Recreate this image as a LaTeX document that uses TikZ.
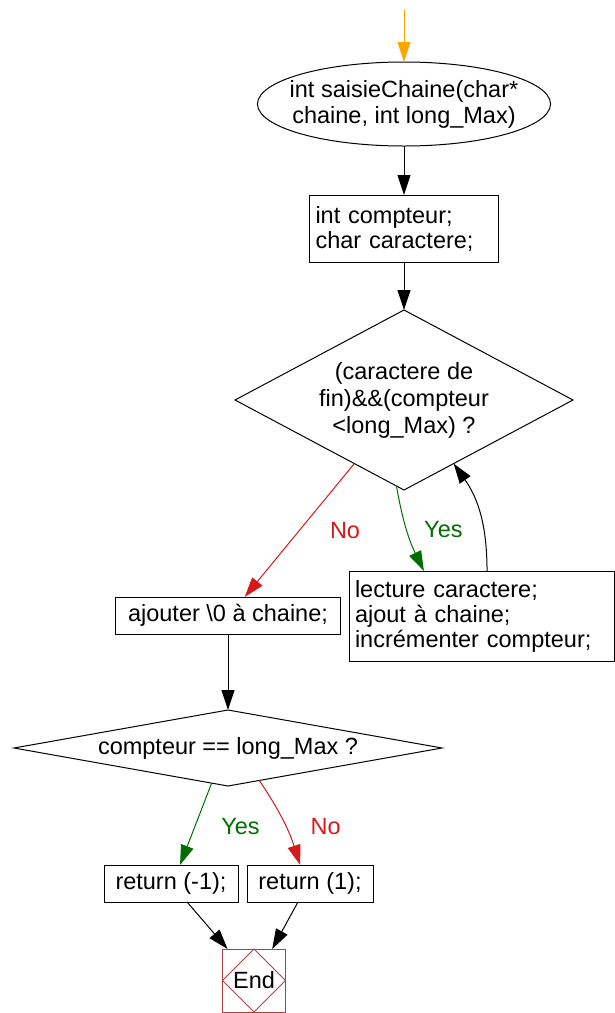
\documentclass[tikz,border=0pt]{standalone}
\usepackage{fontspec}
\setmainfont{Liberation Sans}
\usetikzlibrary{positioning,shapes.geometric,arrows.meta}

\definecolor{startOrange}{RGB}{255,165,0}
\definecolor{yesGreen}{RGB}{0,110,0}
\definecolor{noRed}{RGB}{215,25,25}
\definecolor{endRed}{RGB}{176,64,64}

\begin{document}
\begin{tikzpicture}[
    x=1pt, y=-1pt,
    font=\fontsize{23.5}{25}\selectfont,
    line/.style={%
      line width=1pt,
      -{Triangle[length=20pt,width=13pt]},
    },
    box/.style={%
      draw,
      rectangle,
      line width=1pt,
      inner xsep=6pt,
      inner ysep=0pt,
      outer sep=0pt,
      align=left,
    },
    cond/.style={%
      draw,
      diamond,
      line width=1pt,
      inner sep=0pt,
      outer sep=0pt,
      align=center,
    },
    tag/.style={inner sep=0pt},
  ]
    \useasboundingbox (0,0) rectangle (615,1013);

    \coordinate (in) at (404,10);
    \node [draw, ellipse, line width=1pt, inner sep=0pt, outer sep=0pt,
      minimum width=293pt, minimum height=84pt,
      label={[align=center, font=\fontsize{23.5}{26}\selectfont]center:int saisieChaine(char*\\chaine, int long\_Max)}]
      (fn) at (404,104) {};
    \node [box, text width=177pt, minimum height=67pt] (decl) at (404,228.5) {int compteur;\\char caractere;};
    \node [cond, aspect=1.878, minimum width=338pt, minimum height=180pt,
      font=\fontsize{23.5}{27}\selectfont] (test) at (404,400)
      {(caractere de\\fin)\&\&(compteur\\<long\_Max) ?};
    \node [box, minimum width=225pt, minimum height=37pt] (term) at (228,615.5) {ajouter \textbackslash0 à chaine;};
    \node [box, text width=253pt, minimum height=90pt] (loop) at (481.5,616)
      {lecture caractere;\\ajout à chaine;\\incrémenter compteur;};
    \node [cond, aspect=5.63, minimum width=428pt, minimum height=76pt] (check) at (228,748) {compteur == long\_Max ?};
    \node [box, minimum width=134pt, minimum height=37pt] (ret1) at (171,883.5) {return (-1);};
    \node [box, minimum width=126pt, minimum height=37pt] (ret2) at (310,883.5) {return (1);};
    \node [box, draw=endRed, minimum size=63pt, inner sep=0pt] (end) at (254,980.5) {End};
    \draw [endRed, line width=1pt] (end.north) -- (end.east) -- (end.south) -- (end.west) -- cycle;

    \draw [line, startOrange] (in) -- (fn.north);
    \draw [line] (fn.south) -- (decl.north);
    \draw [line] (decl.south) -- (test.north);
    \draw [line, noRed] (test.-128) -- (term.48) node [tag, pos=0.5, right=30pt] {No};
    \draw [line, yesGreen] (test.-95) to [bend right=8] node [tag, pos=0.5, right=17pt] {Yes} (loop.142);
    \draw [line] (loop.83) to [out=90, in=-55] (test.-52);
    \draw [line] (term.south) -- (check.north);
    \draw [line, yesGreen] (check.-115) -- (ret1.64) node [tag, pos=0.5, right=25pt, yshift=-2pt] {Yes};
    \draw [line, noRed] (check.-46) to [bend left=8] node [tag, pos=0.5, right=27pt, yshift=-5pt] {No} (ret2.118);
    \draw [line] (ret1.-49) -- (end.130);
    \draw [line] (ret2.-123) -- (end.60);
\end{tikzpicture}
\end{document}
